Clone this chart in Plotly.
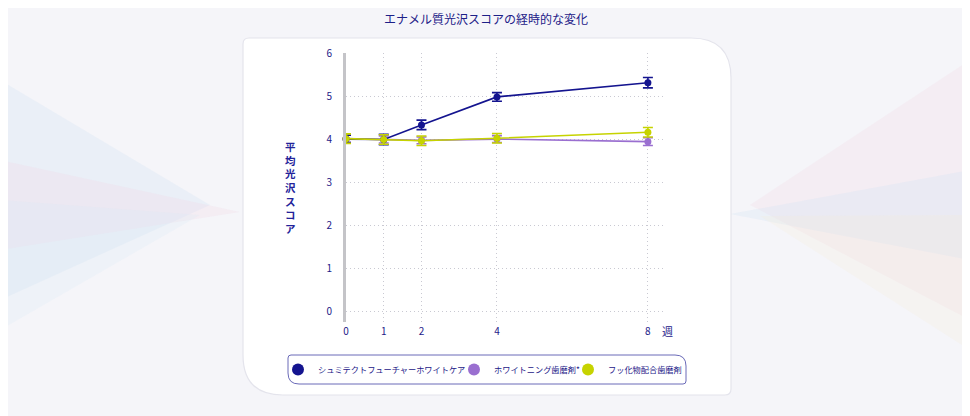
import plotly.graph_objects as go

# ---------------- data ----------------
weeks = [0, 1, 2, 4, 8]
series_names = ["シュミテクトフューチャーホワイトケア", "ホワイトニング歯磨剤*", "フッ化物配合歯磨剤"]
shumitect = [4.00, 3.99, 4.33, 4.98, 5.31]
shumitect_err = [0.09, 0.12, 0.11, 0.10, 0.12]
whitening = [4.01, 3.99, 3.97, 4.00, 3.94]
whitening_err = [0.08, 0.08, 0.08, 0.08, 0.09]
fluoride = [4.01, 3.99, 3.96, 4.02, 4.16]
fluoride_err = [0.11, 0.11, 0.11, 0.11, 0.11]
y_ticks = [0, 1, 2, 3, 4, 5, 6]
x_ticks = [0, 1, 2, 4, 8]
title_text = "エナメル質光沢スコアの経時的な変化"
y_title = "平均光沢スコア"
x_unit = "週"

NAVY = "#1d2088"
C_NAVY = "#14148f"
C_PURPLE = "#9a6fd0"
C_YELLOW = "#c6d300"
FONT = "Noto Sans CJK JP"

# page has an 8px body margin; work in reference pixel coords and shift
OFF = 8
W, H = 970 - OFF, 416 - OFF
L, R, T, B = 346 - OFF, 663 - OFF, 53 - OFF, 322 - OFF


def px(x):
    return (x - OFF - L) / (R - L)


def py(y):
    return (B - (y - OFF)) / (B - T)


def cx(x):
    return (x - OFF) / W


def cy(y):
    return 1 - (y - OFF) / H


def rounded_path(x0, y0, x1, y1, tl, tr, br, bl):
    pts = [
        f"M {px(x0 + tl)},{py(y0)}",
        f"L {px(x1 - tr)},{py(y0)}",
        f"Q {px(x1)},{py(y0)} {px(x1)},{py(y0 + tr)}",
        f"L {px(x1)},{py(y1 - br)}",
        f"Q {px(x1)},{py(y1)} {px(x1 - br)},{py(y1)}",
        f"L {px(x0 + bl)},{py(y1)}",
        f"Q {px(x0)},{py(y1)} {px(x0)},{py(y1 - bl)}",
        f"L {px(x0)},{py(y0 + tl)}",
        f"Q {px(x0)},{py(y0)} {px(x0 + tl)},{py(y0)}",
        "Z",
    ]
    return " ".join(pts)


def tri(a, b, c):
    return (f"M {px(a[0])},{py(a[1])} L {px(b[0])},{py(b[1])} "
            f"L {px(c[0])},{py(c[1])} Z")


fig = go.Figure()

traces = [
    (whitening, whitening_err, C_PURPLE, series_names[1]),
    (shumitect, shumitect_err, C_NAVY, series_names[0]),
    (fluoride, fluoride_err, C_YELLOW, series_names[2]),
]
for vals, errs, col, name in traces:
    fig.add_trace(go.Scatter(
        x=weeks, y=vals, mode="lines+markers", name=name, showlegend=False,
        line=dict(color=col, width=1.6),
        marker=dict(color=col, size=7),
        error_y=dict(type="data", array=errs, visible=True, color=col,
                     thickness=1.6, width=5),
        cliponaxis=False,
    ))

# legend-only entries (circles), each in its own legend so they can be placed
legend_ids = ["legend", "legend2", "legend3"]
legend_circle_px = [298, 474, 588]   # reference pixel x of each legend circle centre
for name, col, lid in zip(series_names, [C_NAVY, C_PURPLE, C_YELLOW], legend_ids):
    fig.add_trace(go.Scatter(
        x=[None], y=[None], mode="markers", name=name, legend=lid,
        marker=dict(color=col, size=12),
    ))

ray = lambda p, col: dict(type="path", xref="paper", yref="paper", path=p,
                          fillcolor=col, line=dict(width=0), layer="below")
shapes = [
    ray(tri((0, 80), (210, 205), (0, 300)), "rgba(205,222,242,0.25)"),
    ray(tri((0, 160), (240, 212), (0, 250)), "rgba(242,215,230,0.28)"),
    ray(tri((0, 200), (200, 215), (0, 330)), "rgba(215,232,245,0.22)"),
    ray(tri((970, 60), (750, 205), (970, 320)), "rgba(242,215,228,0.25)"),
    ray(tri((970, 170), (730, 214), (970, 260)), "rgba(210,225,245,0.28)"),
    ray(tri((970, 215), (760, 216), (970, 350)), "rgba(245,235,215,0.22)"),
    # white panel
    dict(type="path", xref="paper", yref="paper",
         path=rounded_path(243, 38, 731, 395, 6, 40, 6, 40),
         fillcolor="rgba(255,255,255,0.94)", line=dict(color="#e4e4ec", width=1.2),
         layer="below"),
    # legend frame
    dict(type="path", xref="paper", yref="paper",
         path=rounded_path(288, 355, 686, 384, 3, 11, 3, 11),
         fillcolor="rgba(255,255,255,0)", line=dict(color="#6a6ab8", width=1),
         layer="above"),
]

annotations = [
    dict(text="<br>".join(list(y_title)), xref="paper", yref="paper",
         x=px(290), y=py(187), xanchor="center", yanchor="middle",
         showarrow=False, align="center",
         font=dict(family=FONT, size=10.5, color="#23239a", weight="bold")),
    dict(text=x_unit, xref="paper", yref="paper", x=px(667), y=py(331),
         xanchor="center", yanchor="middle", showarrow=False,
         font=dict(family=FONT, size=11, color=NAVY)),
]

legend_common = dict(orientation="h", xref="paper", yref="paper",
                     xanchor="left", yanchor="middle",
                     bgcolor="rgba(0,0,0,0)", borderwidth=0,
                     font=dict(family=FONT, size=8.2, color=NAVY),
                     itemsizing="constant")
legends = {}
for lid, cpx in zip(legend_ids, legend_circle_px):
    legends[lid] = dict(legend_common, x=px(cpx - 20), y=py(369.5))

fig.update_layout(
    width=W, height=H,
    margin=dict(l=L, r=W - R, t=T, b=H - B, autoexpand=False),
    paper_bgcolor="#f5f5f9",
    plot_bgcolor="rgba(0,0,0,0)",
    title=dict(text=title_text, x=cx(486), xanchor="center", y=cy(20),
               yanchor="middle",
               font=dict(family=FONT, size=12, color=NAVY)),
    font=dict(family=FONT, color=NAVY),
    xaxis=dict(range=[0, 8.4], tickvals=x_ticks, ticktext=[str(t) for t in x_ticks],
               showgrid=True, gridcolor="#c9c9d2", griddash="1px,3px", gridwidth=1,
               zeroline=False, showline=False, ticks="",
               tickfont=dict(family=FONT, size=10, color=NAVY), ticklabelstandoff=2),
    yaxis=dict(range=[-0.25, 6.0], tickvals=y_ticks, ticktext=[str(t) for t in y_ticks],
               showgrid=True, gridcolor="#c9c9d2", griddash="1px,3px", gridwidth=1,
               zeroline=False, showline=True, linecolor="#c4c4c8", linewidth=3,
               ticks="", tickfont=dict(family=FONT, size=10, color=NAVY),
               ticklabelstandoff=9),
    shapes=shapes,
    annotations=annotations,
    **legends,
)

fig.write_html("out.html")
